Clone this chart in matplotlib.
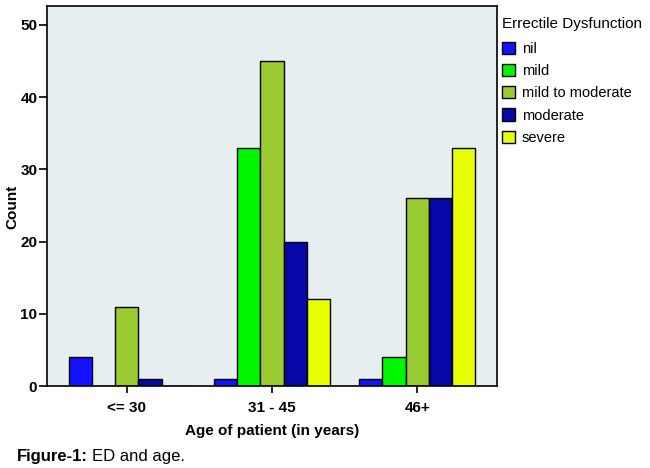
import matplotlib
matplotlib.use("Agg")
import matplotlib.pyplot as plt
from matplotlib import font_manager
import numpy as np

groups = ["<= 30", "31 - 45", "46+"]
series = ["nil", "mild", "mild to moderate", "moderate", "severe"]
nil = [4, 1, 1]
mild = [0, 33, 4]
mild_to_moderate = [11, 45, 26]
moderate = [1, 20, 26]
severe = [0, 12, 33]
values = [nil, mild, mild_to_moderate, moderate, severe]
colors = ["#1212FF", "#00F700", "#9ACB32", "#0707A8", "#E8FF00"]
yticks = [0, 10, 20, 30, 40, 50]

avail = {f.name for f in font_manager.fontManager.ttflist}
base = "Liberation Sans" if "Liberation Sans" in avail else "DejaVu Sans"
plt.rcParams["font.family"] = [base, "DejaVu Sans"]

fig = plt.figure(figsize=(6.5, 4.68), dpi=100)
ax = fig.add_axes([47/650, 1-386/468, 450/650, 380/468])
ax.set_facecolor("#E6EEF0")

x = np.arange(len(groups))
w = 0.16
for i, (name, vals, c) in enumerate(zip(series, values, colors)):
    ax.bar(x + (i - 2) * w, vals, width=w, color=c, edgecolor="black",
           linewidth=1.0, label=name, zorder=2)

ax.set_xlim(-0.55, 2.55)
ax.set_ylim(0, 52.6)
ax.set_yticks(yticks)
ax.set_yticklabels([str(t) for t in yticks], fontsize=11, fontweight="bold")
ax.set_xticks(x)
ax.set_xticklabels(groups, fontsize=11, fontweight="bold")
ax.tick_params(axis="y", length=6, width=1.2, pad=1)
ax.tick_params(axis="x", length=5, width=1.2, pad=6)
for s in ax.spines.values():
    s.set_linewidth(1.2)
ax.set_ylabel("Count", fontsize=11, fontweight="bold")
ax.yaxis.set_label_coords(-0.062, (386 - 207) / 380)
ax.set_xlabel("Age of patient (in years)", fontsize=11, fontweight="bold", labelpad=6)

leg = fig.legend(loc="upper left", bbox_to_anchor=(502/650, 1-17/468),
                 frameon=False, fontsize=10.5, title="Errectile Dysfunction",
                 title_fontsize=11, handlelength=0.9, handleheight=0.9,
                 handletextpad=0.45, labelspacing=0.55, borderaxespad=0,
                 borderpad=0)
leg._legend_box.align = "left"
leg._legend_box.sep = 8

t1 = fig.text(17/650, 1-456/468, "Figure-1:", fontsize=12, fontweight="bold",
              va="center", ha="left")
fig.canvas.draw()
bb = t1.get_window_extent(renderer=fig.canvas.get_renderer())
fig.text(bb.x1 / fig.bbox.width + 4/650, 1-456/468, "ED and age.", fontsize=12,
         va="center", ha="left")

fig.savefig("out.png", dpi=100, facecolor="white")
